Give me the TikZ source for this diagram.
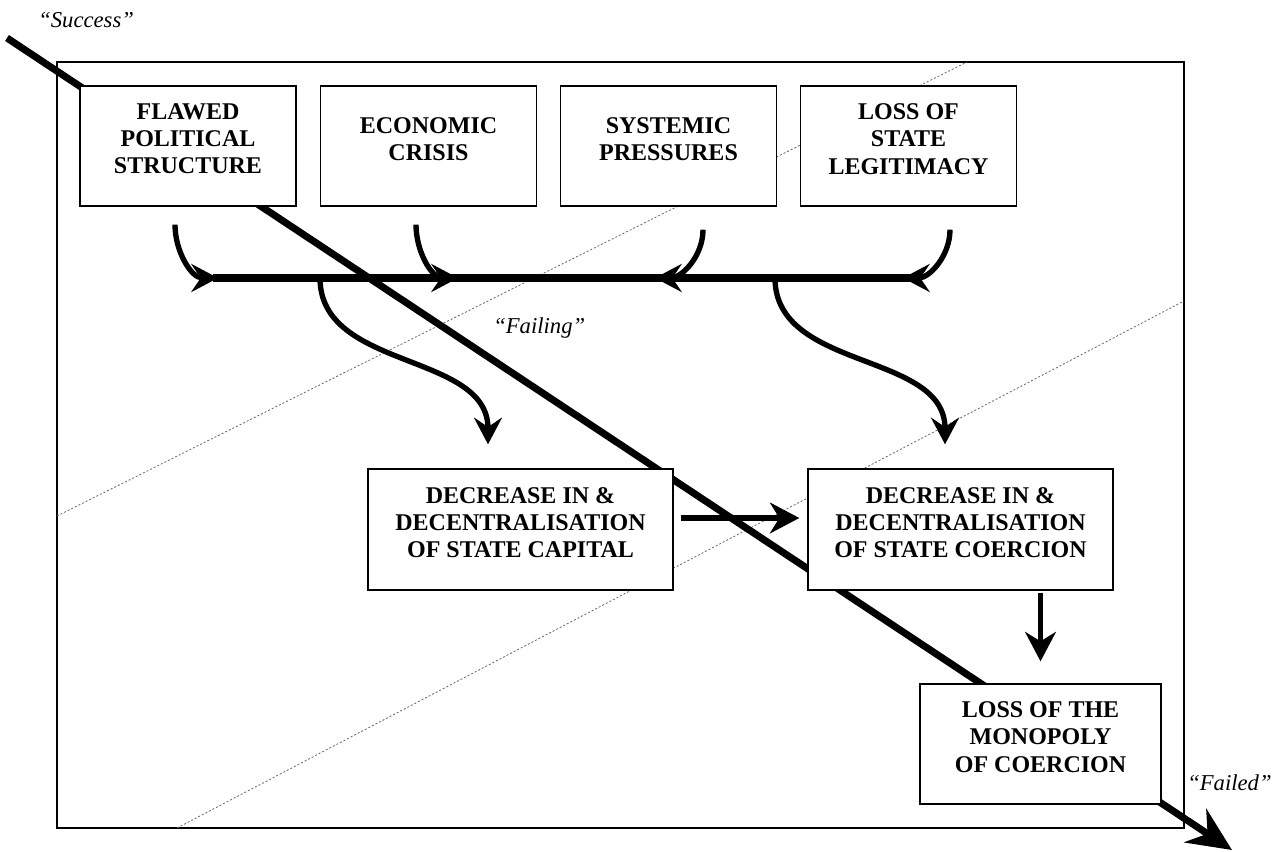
\documentclass[tikz,border=0pt]{standalone}
\usepackage{fontspec}
\setmainfont{Liberation Serif}
\usetikzlibrary{arrows.meta,calc}

\tikzset{
  cause/.style={draw, fill=white, line width=1pt, inner sep=0pt,
    minimum width=162pt, minimum height=90pt, align=center, text depth=10.5pt,
    font=\bfseries\fontsize{18pt}{20.3pt}\selectfont},
  effect/.style={cause, minimum width=228.75pt, minimum height=90.75pt},
  endstate/.style={cause, minimum width=180.75pt},
  phase/.style={font=\itshape\fontsize{17pt}{20pt}\selectfont, anchor=base west, inner sep=0pt},
  trend/.style={line width=5.3pt, -{Stealth[length=33pt,width=30pt,inset=11pt]}},
  hatch/.style={black!60, line width=0.6pt, dash pattern=on 1.5pt off 1.5pt},
  spine/.style={line width=5.3pt},
  feed/.style={line width=4pt, -{Stealth[length=20pt,width=21pt,inset=7pt]}},
  push/.style={line width=4.3pt, -{Stealth[length=22pt,width=23pt,inset=7pt]}}
}

\begin{document}
\begin{tikzpicture}[x=0.75pt, y=-0.75pt]
\useasboundingbox (0,0) rectangle (1281,852);

% frame and the dotted phase boundaries
\draw[line width=0.9pt] (57,62) rectangle (1184,828);
\draw[hatch] (57,516) -- (967,62);
\draw[hatch] (177,828) -- (1184,301);

% success -> failed
\coordinate (start) at (7,38);
\coordinate (finish) at (1232,850);
\draw[trend] (start) -- (finish);

\node[phase] (success) at (38,28) {“Success”};
\node[phase] (failing) at (493,333) {“Failing”};
\node[phase] (failed) at (1187,790) {“Failed”};

% causes
\node[cause] (flawed) at (188,146) {FLAWED\\POLITICAL\\STRUCTURE};
\node[cause] (economic) at (428.5,146) {ECONOMIC\\CRISIS};
\node[cause] (systemic) at (668.5,146) {SYSTEMIC\\PRESSURES};
\node[cause] (legitimacy) at (908.5,146) {LOSS OF\\STATE\\LEGITIMACY};

% effects
\node[effect] (capital) at (520.5,529.5) {DECREASE IN \&\\DECENTRALISATION\\OF STATE CAPITAL};
\node[effect] (coercion) at (960.5,529.5) {DECREASE IN \&\\DECENTRALISATION\\OF STATE COERCION};
\node[endstate] (monopoly) at (1040.5,744) {LOSS OF THE\\MONOPOLY\\OF COERCION};

% the common bar
\coordinate (barW) at (213,278);
\coordinate (barE) at (912,278);
\draw[spine] (barW) -- (barE);

\coordinate (in1) at (218,278);
\coordinate (in2) at (458,278);
\coordinate (in3) at (655,278);
\coordinate (in4) at (903,278);
\coordinate (out1) at (320,278);
\coordinate (out2) at (775,278);

\draw[feed] ($(flawed.south)+(-13,18)$) to[out=-90,in=180] (in1);
\draw[feed] ($(economic.south)+(-12.5,18)$) to[out=-90,in=180] (in2);
\draw[feed] ($(systemic.south)+(34.5,23)$) to[out=-90,in=0] (in3);
\draw[feed] ($(legitimacy.south)+(41.5,23)$) to[out=-90,in=0] (in4);

\draw[feed] (out1) to[out=-90,in=90] ($(capital.north)+(-32.5,-24)$);
\draw[feed] (out2) to[out=-90,in=90] ($(coercion.north)+(-15.5,-24)$);

\draw[push] ($(capital.east)+(7,-11.5)$) -- ($(coercion.west)+(-8,-11.5)$);
\coordinate (drop) at (coercion.south -| monopoly.north);
\draw[push] ($(drop)+(0,2)$) -- ($(monopoly.north)+(0,-22)$);
\end{tikzpicture}
\end{document}
